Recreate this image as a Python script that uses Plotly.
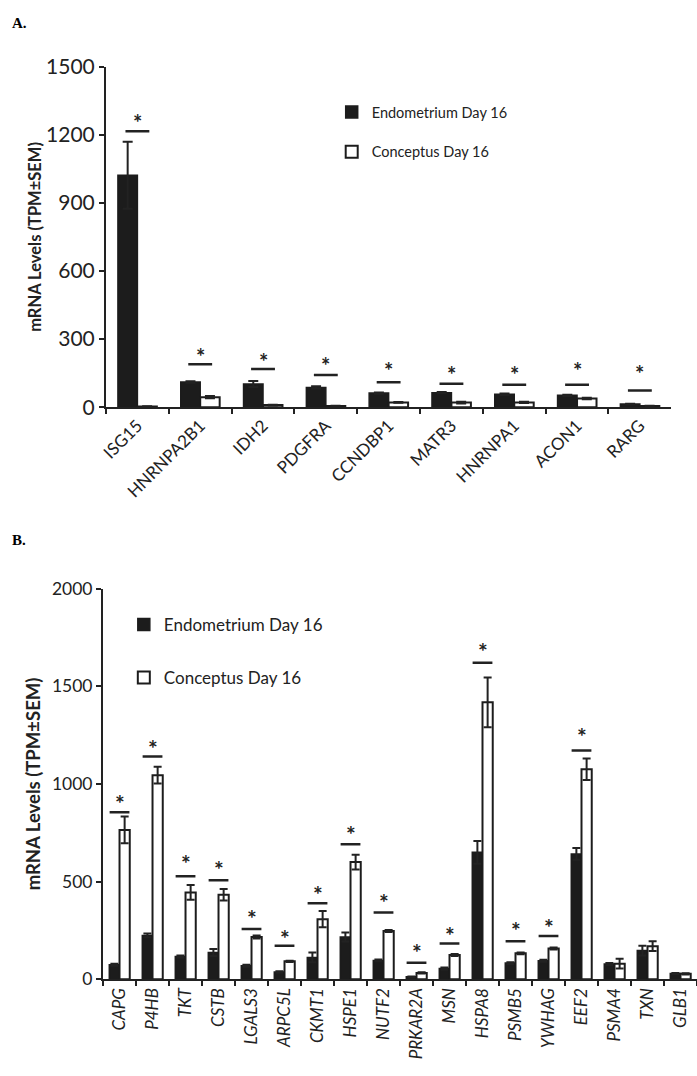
import plotly.graph_objects as go

W, H = 697, 1076
FONT = "Lato"
INK = "#222222"

# ---------------- Panel A data ----------------
genes_A = ["ISG15", "HNRNPA2B1", "IDH2", "PDGFRA", "CCNDBP1", "MATR3", "HNRNPA1", "ACON1", "RARG"]
endo_A = [1022, 111, 102, 87, 62, 64, 57, 52, 14]
endo_A_sem = [148, 3, 13, 5, 3, 3, 3, 3, 1]
conc_A = [3, 44, 9, 5, 21, 20, 21, 38, 5]
conc_A_sem = [1, 5, 2, 1, 2, 4, 3, 3, 1]
sig_line_A = [1216, 189, 168, 142, 110, 103, 99, 99, 73]
sig_star_A = [1272, 242, 218, 199, 177, 160, 160, 177, 168]
yticks_A = [0, 300, 600, 900, 1200, 1500]

# ---------------- Panel B data ----------------
genes_B = ["CAPG", "P4HB", "TKT", "CSTB", "LGALS3", "ARPC5L", "CKMT1", "HSPE1", "NUTF2",
           "PRKAR2A", "MSN", "HSPA8", "PSMB5", "YWHAG", "EEF2", "PSMA4", "TXN", "GLB1"]
endo_B = [75, 225, 117, 137, 70, 38, 112, 217, 97, 13, 55, 650, 83, 95, 642, 78, 147, 30]
endo_B_sem = [5, 10, 5, 18, 5, 3, 25, 23, 5, 2, 5, 58, 5, 5, 30, 5, 25, 3]
conc_B = [765, 1045, 445, 433, 217, 92, 308, 600, 247, 33, 125, 1418, 133, 158, 1075, 80, 170, 28]
conc_B_sem = [68, 43, 38, 29, 8, 3, 42, 38, 5, 3, 5, 127, 4, 5, 55, 25, 25, 3]
sig_line_B = [855, 1141, 528, 507, 258, 172, 390, 692, 342, 85, 183, 1620, 195, 222, 1172]
sig_star_B = [925, 1203, 617, 587, 333, 233, 458, 762, 417, 158, 250, 1700, 275, 288, 1267]
yticks_B = [0, 500, 1000, 1500, 2000]

series_names = ["Endometrium Day 16", "Conceptus Day 16"]

fig = go.Figure()

def add_panel(genes, endo, endo_sem, conc, conc_sem, xa, ya, leg, capw):
    fig.add_trace(go.Bar(
        x=genes, y=endo, name=series_names[0], xaxis=xa, yaxis=ya, legend=leg,
        legendgroup=leg + "e",
        marker=dict(color="#1c1c1c", line=dict(color="#1c1c1c", width=1.5)),
        error_y=dict(type="data", array=endo_sem, color=INK, thickness=2, width=capw),
    ))
    fig.add_trace(go.Bar(
        x=genes, y=conc, name=series_names[1], xaxis=xa, yaxis=ya, legend=leg,
        legendgroup=leg + "c",
        marker=dict(color="white", line=dict(color="#1c1c1c", width=2)),
        error_y=dict(type="data", array=conc_sem, color=INK, thickness=2, width=capw),
    ))

add_panel(genes_A, endo_A, endo_A_sem, conc_A, conc_A_sem, "x", "y", "legend", 5)
add_panel(genes_B, endo_B, endo_B_sem, conc_B, conc_B_sem, "x2", "y2", "legend2", 4)

shapes, annotations = [], []
def add_sig(lines, stars, xr, yr, half, size):
    for i, (lv, sv) in enumerate(zip(lines, stars)):
        shapes.append(dict(type="line", xref=xr, yref=yr, x0=i - half, x1=i + half,
                           y0=lv, y1=lv, line=dict(color=INK, width=2.5)))
        annotations.append(dict(x=i, y=sv, xref=xr, yref=yr, text="<b>*</b>", showarrow=False,
                                yanchor="middle", font=dict(family=FONT, size=size, color=INK),
                                yshift=-4))

add_sig(sig_line_A, sig_star_A, "x", "y", 0.19, 22)
add_sig(sig_line_B, sig_star_B, "x2", "y2", 0.30, 23)

annotations.append(dict(x=3 / W, y=1 - 9 / H, xref="paper", yref="paper", text="<b>A.</b>",
                        showarrow=False, xanchor="left", yanchor="middle",
                        font=dict(family="Liberation Serif", size=15, color="black")))
annotations.append(dict(x=3 / W, y=1 - 538 / H, xref="paper", yref="paper", text="<b>B.</b>",
                        showarrow=False, xanchor="left", yanchor="middle",
                        font=dict(family="Liberation Serif", size=15, color="black")))

axis_common = dict(showline=True, linewidth=2, linecolor=INK, ticks="outside", tickwidth=2,
                   tickcolor=INK, showgrid=False, zeroline=False)

yA = (1 - 402.5 / H, 1 - 54 / H)
yB = (1 - 988.3 / H, 1 - 588.3 / H)

fig.update_layout(
    width=W, height=H, margin=dict(l=0, r=0, t=0, b=0),
    paper_bgcolor="white", plot_bgcolor="white",
    font=dict(family=FONT, color=INK),
    barmode="group", bargap=0.38, bargroupgap=0,
    shapes=shapes, annotations=annotations,
    xaxis=dict(domain=[100 / W, 671 / W], anchor="y", type="category", tickson="boundaries",
               ticklen=5, tickangle=-45, range=[-0.5, len(genes_A) - 0.5],
               tickfont=dict(family=FONT, size=17, color=INK), **axis_common),
    yaxis=dict(domain=list(yA), anchor="x", range=[0, 1500], tickmode="array", tickvals=yticks_A,
               ticklen=5, tickfont=dict(family=FONT, size=21, color=INK),
               title=dict(text="<b>mRNA Levels (TPM±SEM)</b>", standoff=0,
                          font=dict(family=FONT, size=16.5, color=INK)),
               **axis_common),
    xaxis2=dict(domain=[97 / W, 1.0], anchor="y2", type="category", tickson="boundaries",
                ticklen=5, tickangle=-90, range=[-0.5, len(genes_B) - 0.5],
                tickfont=dict(family=FONT, size=17, color=INK, style="italic"), **axis_common),
    yaxis2=dict(domain=list(yB), anchor="x2", range=[0, 2000], tickmode="array", tickvals=yticks_B,
                ticklen=5, tickfont=dict(family=FONT, size=17.5, color=INK),
                title=dict(text="<b>mRNA Levels (TPM±SEM)</b>", standoff=6,
                           font=dict(family=FONT, size=18.5, color=INK)),
                **axis_common),
    legend=dict(x=328 / W, y=1 - 84 / H, xanchor="left", yanchor="top", traceorder="grouped",
                tracegroupgap=18, bgcolor="rgba(0,0,0,0)",
                font=dict(family=FONT, size=14.5, color=INK)),
    legend2=dict(x=118 / W, y=1 - 607 / H, xanchor="left", yanchor="top", traceorder="grouped",
                 tracegroupgap=28, bgcolor="rgba(0,0,0,0)",
                 font=dict(family=FONT, size=17, color=INK)),
)

fig.write_html("out.html", config={"displayModeBar": False},
               post_script="document.body.style.margin='0';document.body.style.overflow='hidden';")
